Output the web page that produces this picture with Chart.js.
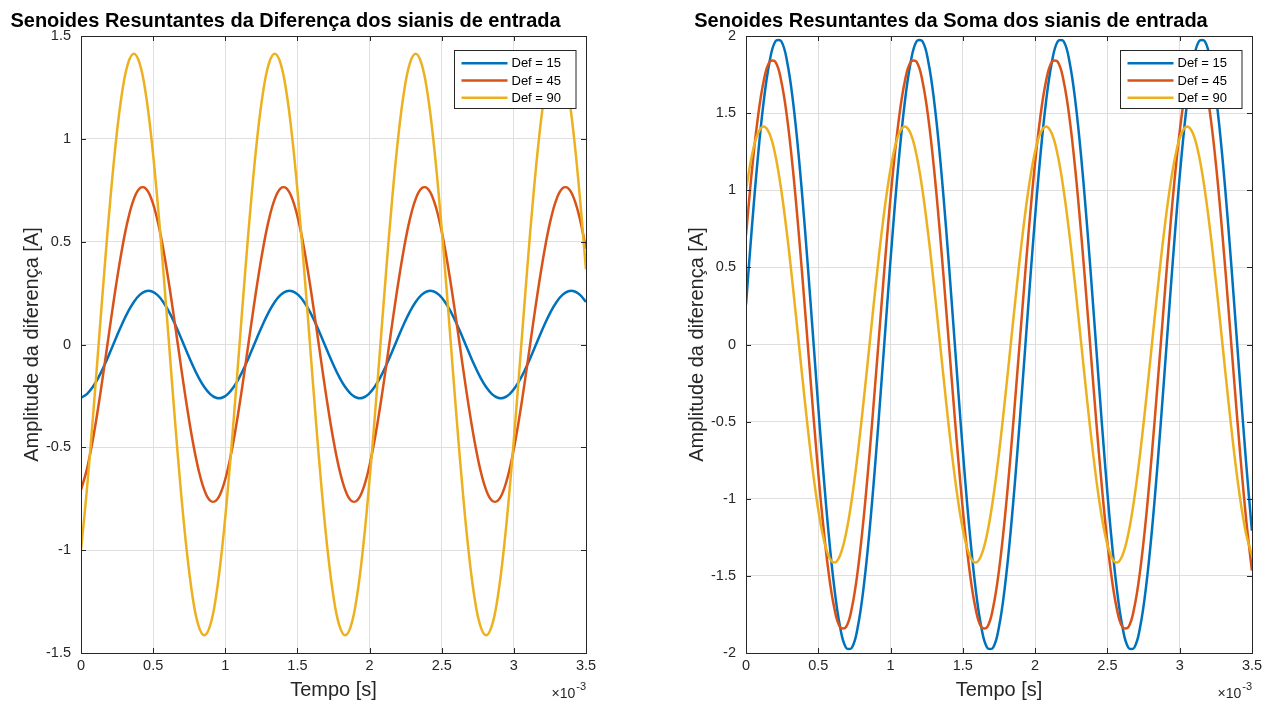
<!DOCTYPE html>
<html>
<head>
<meta charset="utf-8">
<script src="https://cdn.jsdelivr.net/npm/chart.js@4"></script>
<style>
  body { margin: 0; background: #fff; }
  canvas { position: absolute; top: 0; }
</style>
</head>
<body>
<canvas id="graficoDif" width="640" height="704" style="left:0"></canvas>
<canvas id="graficoSoma" width="637" height="704" style="left:640px"></canvas>
<script>
// Tempo em ms (eixo mostrado como x 10^-3 s)
const tempo = [
  0, 0.0407, 0.0814, 0.1221, 0.1628, 0.2035, 0.2441, 0.2848, 0.3255, 0.3662, 0.4069, 0.4476,
  0.4883, 0.5290, 0.5697, 0.6104, 0.6510, 0.6917, 0.7324, 0.7731, 0.8138, 0.8545, 0.8952, 0.9359,
  0.9766, 1.0173, 1.0580, 1.0987, 1.1394, 1.1801, 1.2207, 1.2614, 1.3021, 1.3428, 1.3835, 1.4242,
  1.4649, 1.5056, 1.5463, 1.5870, 1.6276, 1.6683, 1.7090, 1.7497, 1.7904, 1.8311, 1.8718, 1.9125,
  1.9531, 1.9938, 2.0345, 2.0752, 2.1159, 2.1566, 2.1973, 2.2380, 2.2786, 2.3193, 2.3600, 2.4007,
  2.4414, 2.4821, 2.5228, 2.5635, 2.6042, 2.6449, 2.6855, 2.7262, 2.7669, 2.8076, 2.8483, 2.8890,
  2.9297, 2.9704, 3.0111, 3.0518, 3.0924, 3.1331, 3.1738, 3.2145, 3.2552, 3.2959, 3.3366, 3.3773,
  3.4180, 3.4587, 3.4993
];

// Diferença dos sinais de entrada
const difDef15 = [
  -0.259, -0.241, -0.207, -0.159, -0.100, -0.034, 0.034, 0.100, 0.159, 0.207, 0.241, 0.259,
  0.259, 0.241, 0.207, 0.159, 0.100, 0.034, -0.034, -0.100, -0.159, -0.207, -0.241, -0.259,
  -0.259, -0.241, -0.207, -0.159, -0.100, -0.034, 0.034, 0.100, 0.159, 0.207, 0.241, 0.259,
  0.259, 0.241, 0.207, 0.159, 0.100, 0.034, -0.034, -0.100, -0.159, -0.207, -0.241, -0.259,
  -0.259, -0.241, -0.207, -0.159, -0.100, -0.034, 0.034, 0.100, 0.159, 0.207, 0.241, 0.259,
  0.259, 0.241, 0.207, 0.159, 0.100, 0.034, -0.034, -0.100, -0.159, -0.207, -0.241, -0.259,
  -0.259, -0.241, -0.207, -0.159, -0.100, -0.034, 0.034, 0.100, 0.159, 0.207, 0.241, 0.259,
  0.259, 0.241, 0.207
];
const difDef45 = [
  -0.707, -0.607, -0.466, -0.293, -0.100, 0.100, 0.293, 0.466, 0.607, 0.707, 0.759, 0.759,
  0.707, 0.607, 0.466, 0.293, 0.100, -0.100, -0.293, -0.466, -0.607, -0.707, -0.759, -0.759,
  -0.707, -0.607, -0.466, -0.293, -0.100, 0.100, 0.293, 0.466, 0.607, 0.707, 0.759, 0.759,
  0.707, 0.607, 0.466, 0.293, 0.100, -0.100, -0.293, -0.466, -0.607, -0.707, -0.759, -0.759,
  -0.707, -0.607, -0.466, -0.293, -0.100, 0.100, 0.293, 0.466, 0.607, 0.707, 0.759, 0.759,
  0.707, 0.607, 0.466, 0.293, 0.100, -0.100, -0.293, -0.466, -0.607, -0.707, -0.759, -0.759,
  -0.707, -0.607, -0.466, -0.293, -0.100, 0.100, 0.293, 0.466, 0.607, 0.707, 0.759, 0.759,
  0.707, 0.607, 0.466
];
const difDef90 = [
  -1.000, -0.707, -0.366, 0, 0.366, 0.707, 1.000, 1.225, 1.366, 1.414, 1.366, 1.225,
  1.000, 0.707, 0.366, 0, -0.366, -0.707, -1.000, -1.225, -1.366, -1.414, -1.366, -1.225,
  -1.000, -0.707, -0.366, 0, 0.366, 0.707, 1.000, 1.225, 1.366, 1.414, 1.366, 1.225,
  1.000, 0.707, 0.366, 0, -0.366, -0.707, -1.000, -1.225, -1.366, -1.414, -1.366, -1.225,
  -1.000, -0.707, -0.366, 0, 0.366, 0.707, 1.000, 1.225, 1.366, 1.414, 1.366, 1.225,
  1.000, 0.707, 0.366, 0, -0.366, -0.707, -1.000, -1.225, -1.366, -1.414, -1.366, -1.225,
  -1.000, -0.707, -0.366, 0, 0.366, 0.707, 1.000, 1.225, 1.366, 1.414, 1.366, 1.225,
  1.000, 0.707, 0.366
];

// Soma dos sinais de entrada
const somaDef15 = [
  0.259, 0.759, 1.207, 1.573, 1.832, 1.966, 1.966, 1.832, 1.573, 1.207, 0.759, 0.259,
  -0.259, -0.759, -1.207, -1.573, -1.832, -1.966, -1.966, -1.832, -1.573, -1.207, -0.759, -0.259,
  0.259, 0.759, 1.207, 1.573, 1.832, 1.966, 1.966, 1.832, 1.573, 1.207, 0.759, 0.259,
  -0.259, -0.759, -1.207, -1.573, -1.832, -1.966, -1.966, -1.832, -1.573, -1.207, -0.759, -0.259,
  0.259, 0.759, 1.207, 1.573, 1.832, 1.966, 1.966, 1.832, 1.573, 1.207, 0.759, 0.259,
  -0.259, -0.759, -1.207, -1.573, -1.832, -1.966, -1.966, -1.832, -1.573, -1.207, -0.759, -0.259,
  0.259, 0.759, 1.207, 1.573, 1.832, 1.966, 1.966, 1.832, 1.573, 1.207, 0.759, 0.259,
  -0.259, -0.759, -1.207
];
const somaDef45 = [
  0.707, 1.125, 1.466, 1.707, 1.832, 1.832, 1.707, 1.466, 1.125, 0.707, 0.241, -0.241,
  -0.707, -1.125, -1.466, -1.707, -1.832, -1.832, -1.707, -1.466, -1.125, -0.707, -0.241, 0.241,
  0.707, 1.125, 1.466, 1.707, 1.832, 1.832, 1.707, 1.466, 1.125, 0.707, 0.241, -0.241,
  -0.707, -1.125, -1.466, -1.707, -1.832, -1.832, -1.707, -1.466, -1.125, -0.707, -0.241, 0.241,
  0.707, 1.125, 1.466, 1.707, 1.832, 1.832, 1.707, 1.466, 1.125, 0.707, 0.241, -0.241,
  -0.707, -1.125, -1.466, -1.707, -1.832, -1.832, -1.707, -1.466, -1.125, -0.707, -0.241, 0.241,
  0.707, 1.125, 1.466, 1.707, 1.832, 1.832, 1.707, 1.466, 1.125, 0.707, 0.241, -0.241,
  -0.707, -1.125, -1.466
];
const somaDef90 = [
  1.000, 1.225, 1.366, 1.414, 1.366, 1.225, 1.000, 0.707, 0.366, 0, -0.366, -0.707,
  -1.000, -1.225, -1.366, -1.414, -1.366, -1.225, -1.000, -0.707, -0.366, 0, 0.366, 0.707,
  1.000, 1.225, 1.366, 1.414, 1.366, 1.225, 1.000, 0.707, 0.366, 0, -0.366, -0.707,
  -1.000, -1.225, -1.366, -1.414, -1.366, -1.225, -1.000, -0.707, -0.366, 0, 0.366, 0.707,
  1.000, 1.225, 1.366, 1.414, 1.366, 1.225, 1.000, 0.707, 0.366, 0, -0.366, -0.707,
  -1.000, -1.225, -1.366, -1.414, -1.366, -1.225, -1.000, -0.707, -0.366, 0, 0.366, 0.707,
  1.000, 1.225, 1.366, 1.414, 1.366, 1.225, 1.000, 0.707, 0.366, 0, -0.366, -0.707,
  -1.000, -1.225, -1.366
];

const rotulos = ['Def = 15', 'Def = 45', 'Def = 90'];
const ticksTempo = [0, 0.5, 1, 1.5, 2, 2.5, 3, 3.5];
const ticksDif = [-1.5, -1, -0.5, 0, 0.5, 1, 1.5];
const ticksSoma = [-2, -1.5, -1, -0.5, 0, 0.5, 1, 1.5, 2];

const cores = ['#0072BD', '#D95319', '#EDB120'];
const fonte = "'Liberation Sans', Arial, sans-serif";
const cinza = '#262626';

Chart.defaults.font.family = fonte;
Chart.defaults.color = cinza;

// caixa dos eixos, ticks internos, legenda, titulo e x10^-3 (estilo MATLAB)
const estiloMatlab = {
    id: 'estiloMatlab',
    afterDraw(chart, args, opts) {
        const { ctx, chartArea: a, scales } = chart;
        ctx.save();
        ctx.strokeStyle = cinza;
        ctx.lineWidth = 1;
        ctx.beginPath();
        scales.x.ticks.forEach(t => {
            const px = Math.round(scales.x.getPixelForValue(t.value)) + 0.5;
            ctx.moveTo(px, a.bottom); ctx.lineTo(px, a.bottom - 5);
            ctx.moveTo(px, a.top); ctx.lineTo(px, a.top + 5);
        });
        scales.y.ticks.forEach(t => {
            const py = Math.round(scales.y.getPixelForValue(t.value)) + 0.5;
            ctx.moveTo(a.left, py); ctx.lineTo(a.left + 5, py);
            ctx.moveTo(a.right, py); ctx.lineTo(a.right - 5, py);
        });
        ctx.stroke();
        ctx.strokeRect(Math.round(a.left) + 0.5, Math.round(a.top) + 0.5, Math.round(a.width), Math.round(a.height));

        // legenda
        ctx.font = '13px ' + fonte;
        const larguraTexto = Math.max(...chart.data.datasets.map(d => ctx.measureText(d.label).width));
        const lw = 7 + 46 + 4 + larguraTexto + 15;
        const lh = 58;
        const lx = Math.round(a.right - 10 - lw) + 0.5;
        const ly = Math.round(a.top + 14) + 0.5;
        ctx.fillStyle = '#fff';
        ctx.fillRect(lx, ly, lw, lh);
        ctx.strokeStyle = cinza;
        ctx.strokeRect(lx, ly, lw, lh);
        chart.data.datasets.forEach((d, i) => {
            const yy = ly + 12.7 + i * 17.3;
            ctx.strokeStyle = d.borderColor;
            ctx.lineWidth = 2.5;
            ctx.beginPath();
            ctx.moveTo(lx + 7, yy); ctx.lineTo(lx + 53, yy);
            ctx.stroke();
            ctx.fillStyle = '#000';
            ctx.textAlign = 'left';
            ctx.textBaseline = 'middle';
            ctx.fillText(d.label, lx + 57, yy + 0.5);
        });

        // titulo
        ctx.font = 'bold 20px ' + fonte;
        ctx.fillStyle = '#000';
        ctx.textAlign = 'center';
        ctx.textBaseline = 'alphabetic';
        ctx.fillText(opts.titulo, (a.left + a.right) / 2 - 48, 27);

        // multiplicador do eixo x
        ctx.fillStyle = cinza;
        ctx.textAlign = 'right';
        ctx.font = '11px ' + fonte;
        ctx.fillText('-3', a.right, 690);
        const w = ctx.measureText('-3').width;
        ctx.font = '14px ' + fonte;
        ctx.fillText('\u00d710', a.right - w - 1, 698);
        ctx.restore();
    }
};

function serie(valores) {
    return tempo.map((t, i) => ({ x: t, y: valores[i] }));
}

function criaGrafico(id, series, ticksY, titulo, larguraY, tituloY, padDireita) {
    return new Chart(document.getElementById(id), {
        type: 'line',
        data: {
            datasets: series.map((s, i) => ({
                label: rotulos[i],
                data: serie(s),
                borderColor: cores[i],
                borderWidth: 2.5,
                pointRadius: 0,
                tension: 0.4,
                clip: 0,
                order: series.length - i,
            })),
        },
        options: {
            responsive: false,
            animation: false,
            layout: { padding: { top: 36, right: padDireita, bottom: 0, left: 0 } },
            plugins: {
                legend: { display: false },
                tooltip: { enabled: false },
                estiloMatlab: { titulo: titulo },
            },
            scales: {
                x: {
                    type: 'linear',
                    min: 0,
                    max: 3.5,
                    afterBuildTicks: s => { s.ticks = ticksTempo.map(v => ({ value: v })); },
                    afterFit: s => { s.height = 51; },
                    ticks: { padding: 4, font: { size: 14.5 }, color: cinza, maxRotation: 0, callback: v => String(v) },
                    grid: { color: '#dfdfdf', drawTicks: false },
                    border: { display: false },
                    title: { display: true, text: 'Tempo [s]', font: { size: 20 }, color: cinza, padding: { top: 0, bottom: 2 } },
                },
                y: {
                    min: ticksY[0],
                    max: ticksY[ticksY.length - 1],
                    afterBuildTicks: s => { s.ticks = ticksY.map(v => ({ value: v })); },
                    afterFit: s => { s.width = larguraY; },
                    ticks: { padding: 10, font: { size: 14.5 }, color: cinza, callback: v => String(v) },
                    grid: { color: '#dfdfdf', drawTicks: false },
                    border: { display: false },
                    title: { display: true, text: 'Amplitude da diferença [A]', font: { size: 20 }, color: cinza, padding: { top: tituloY, bottom: 0 } },
                },
            },
        },
        plugins: [estiloMatlab],
    });
}

criaGrafico('graficoDif', [difDef15, difDef45, difDef90], ticksDif,
    'Senoides Resuntantes da Diferença dos sianis de entrada', 81, 20, 54);
criaGrafico('graficoSoma', [somaDef15, somaDef45, somaDef90], ticksSoma,
    'Senoides Resuntantes da Soma dos sianis de entrada', 106, 45, 25);
</script>
</body>
</html>
